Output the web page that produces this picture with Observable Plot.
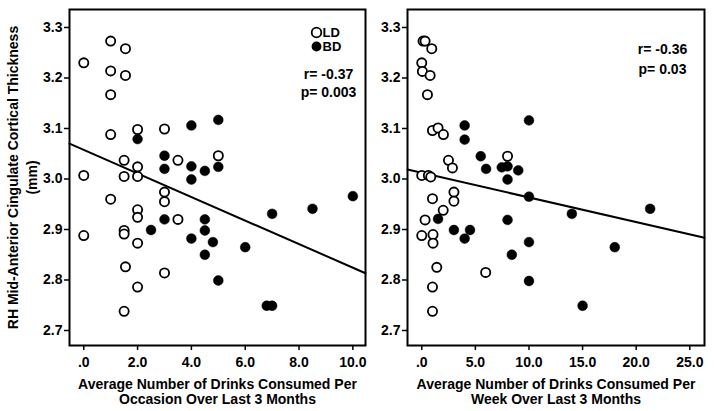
<!DOCTYPE html>
<html><head><meta charset="utf-8">
<script src="https://cdn.jsdelivr.net/npm/d3@7"></script>
<script src="https://cdn.jsdelivr.net/npm/@observablehq/plot@0.6"></script>
<style>
body{margin:0;background:#fff;}
#wrap{display:flex;width:714px;height:411px;overflow:hidden;}
#wrap svg{display:block;}
</style></head><body><div id="wrap"></div>
<script>
// ---------- data ----------
const yTicks = [2.7, 2.8, 2.9, 3.0, 3.1, 3.2, 3.3];
const yTickLabels = ["2.7", "2.8", "2.9", "3.0", "3.1", "3.2", "3.3"];
const yLabel = "RH Mid-Anterior Cingulate Cortical Thickness";
const yLabelUnit = "(mm)";

const leftXTicks = [0, 2, 4, 6, 8, 10];
const leftXTickLabels = [".0", "2.0", "4.0", "6.0", "8.0", "10.0"];
const leftXTitle = "Average Number of Drinks Consumed Per\nOccasion Over Last 3 Months";
const rightXTicks = [0, 5, 10, 15, 20, 25];
const rightXTickLabels = [".0", "5.0", "10.0", "15.0", "20.0", "25.0"];
const rightXTitle = "Average Number of Drinks Consumed Per\nWeek Over Last 3 Months";

const groups = ["LD", "BD"];

// Left panel: drinks per occasion
const leftLDx = [0, 1.0, 1.55, 1.0, 1.55, 1.0, 1.0, 2.0, 3.0, 1.5, 2.0, 3.5, 0, 1.5, 2.0, 5.0, 3.0, 1.0, 3.0, 2.0, 2.0, 3.5, 0, 1.5, 1.5, 2.0, 1.55, 3.0, 2.0, 1.5];
const leftLDy = [3.230, 3.273, 3.258, 3.214, 3.205, 3.167, 3.088, 3.098, 3.099, 3.037, 3.024, 3.037, 3.007, 3.005, 3.005, 3.046, 2.974, 2.960, 2.955, 2.939, 2.924, 2.920, 2.888, 2.898, 2.891, 2.873, 2.826, 2.814, 2.786, 2.738];
const leftBDx = [2.0, 4.0, 5.0, 3.0, 3.0, 4.0, 4.5, 5.0, 4.0, 10.0, 7.0, 8.5, 3.0, 2.5, 4.5, 4.5, 4.0, 4.8, 4.5, 6.0, 5.0, 6.8, 7.0];
const leftBDy = [3.079, 3.106, 3.117, 3.046, 3.020, 3.025, 3.016, 3.024, 2.999, 2.966, 2.931, 2.941, 2.920, 2.899, 2.920, 2.898, 2.882, 2.875, 2.850, 2.865, 2.799, 2.749, 2.749];
const leftFit = {intercept: 3.0576, slope: -0.02332};
const leftStats = "r= -0.37\np= 0.003";

// Right panel: drinks per week
const rightLDx = [0.12, 0.31, 0.93, 0, 0.06, 0.78, 0.53, 1.0, 1.52, 2.02, 2.49, 2.86, 8.0, 0, 0.62, 0.84, 3.0, 1.0, 3.0, 2.0, 0.31, 0, 1.05, 1.05, 1.4, 5.96, 1.0, 1.0];
const rightLDy = [3.273, 3.273, 3.258, 3.230, 3.213, 3.205, 3.167, 3.096, 3.101, 3.088, 3.037, 3.022, 3.045, 3.007, 3.007, 3.004, 2.974, 2.961, 2.956, 2.938, 2.919, 2.888, 2.890, 2.873, 2.825, 2.815, 2.786, 2.738];
const rightBDx = [4.0, 4.0, 10.0, 5.5, 6.0, 7.46, 8.0, 9.0, 8.0, 10.0, 14.0, 21.3, 8.0, 1.52, 3.0, 4.5, 4.0, 10.0, 8.4, 18.0, 10.0, 15.0];
const rightBDy = [3.106, 3.078, 3.116, 3.045, 3.020, 3.023, 3.025, 3.017, 2.999, 2.965, 2.931, 2.941, 2.919, 2.921, 2.899, 2.899, 2.882, 2.875, 2.850, 2.865, 2.798, 2.749];
const rightFit = {intercept: 3.0123, slope: -0.004881};
const rightStats = "r= -0.36\np= 0.03";

// ---------- drawing ----------
const FONT = "'Liberation Sans', Arial, Helvetica, sans-serif";
const yDomain = [2.6703, 3.3356];
const pts = (xs, ys) => xs.map((x, i) => ({x, y: ys[i]}));

function panel(o) {
  const [x0, x1] = o.xDomain;
  const fitLine = [x0, x1].map(x => ({x, y: o.fit.intercept + o.fit.slope * x}));
  const marks = [
    Plot.axisY(yTicks, {tickSize: 5, tickPadding: 2, strokeWidth: 1.5,
      tickFormat: d => yTickLabels[yTicks.indexOf(d)], label: null,
      fontSize: 14, fontWeight: "bold", fontFamily: FONT}),
    Plot.axisX(o.xTicks, {tickSize: 5, tickPadding: 7, strokeWidth: 1.5,
      tickFormat: d => o.xTickLabels[o.xTicks.indexOf(d)], label: null,
      fontSize: 14, fontWeight: "bold", fontFamily: FONT}),
    Plot.text([o.xTitle], {frameAnchor: "bottom", dy: 33, lineAnchor: "top", lineHeight: 1.05,
      fontSize: 14, fontWeight: "bold", fontFamily: FONT, fill: "black"}),
    Plot.line(fitLine, {x: "x", y: "y", stroke: "black", strokeWidth: 2}),
    Plot.dot(pts(o.ldx, o.ldy), {x: "x", y: "y", r: 4.6, fill: "white", stroke: "black", strokeWidth: 1.8}),
    Plot.dot(pts(o.bdx, o.bdy), {x: "x", y: "y", r: 4.9, fill: "black", stroke: "black", strokeWidth: 0.5}),
    Plot.text([o.stats], {frameAnchor: "top-right", dx: o.statsDx, dy: o.statsDy, lineAnchor: "top",
      textAnchor: "middle", lineHeight: o.statsLH, fontSize: 14, fontWeight: "bold", fontFamily: FONT, fill: "black"}),
    Plot.frame({stroke: "black", strokeWidth: 2})
  ];
  if (o.yLabel) {
    marks.push(
      Plot.text([yLabel], {frameAnchor: "left", dx: -55.5, rotate: -90, textAnchor: "middle", lineAnchor: "middle",
        fontSize: 14, fontWeight: "bold", fontFamily: FONT, fill: "black"}),
      Plot.text([yLabelUnit], {frameAnchor: "left", dx: -37, rotate: -90, textAnchor: "middle", lineAnchor: "middle",
        fontSize: 14, fontWeight: "bold", fontFamily: FONT, fill: "black"})
    );
  }
  if (o.legend) {
    marks.push(
      Plot.dot([groups[0]], {frameAnchor: "top-right", dx: -49, dy: 23, r: 4.8, fill: "white", stroke: "black", strokeWidth: 1.8}),
      Plot.dot([groups[1]], {frameAnchor: "top-right", dx: -49, dy: 37, r: 4.9, fill: "black"}),
      Plot.text([groups[0]], {frameAnchor: "top-right", dx: -43, dy: 23.5, textAnchor: "start", lineAnchor: "middle",
        fontSize: 13, fontWeight: "bold", fontFamily: FONT, fill: "black"}),
      Plot.text([groups[1]], {frameAnchor: "top-right", dx: -43, dy: 37.5, textAnchor: "start", lineAnchor: "middle",
        fontSize: 13, fontWeight: "bold", fontFamily: FONT, fill: "black"})
    );
  }
  return Plot.plot({
    width: o.width, height: 411,
    marginLeft: o.marginLeft, marginRight: o.marginRight, marginTop: 9, marginBottom: 66,
    x: {domain: o.xDomain},
    y: {domain: yDomain},
    style: {fontFamily: FONT, fontWeight: "bold", fontSize: "14px", color: "black", background: "white", overflow: "visible"},
    marks
  });
}

const wrap = document.getElementById("wrap");
wrap.append(panel({
  width: 372, marginLeft: 69, marginRight: 7, xDomain: [-0.53, 10.47],
  xTicks: leftXTicks, xTickLabels: leftXTickLabels, xTitle: leftXTitle,
  ldx: leftLDx, ldy: leftLDy, bdx: leftBDx, bdy: leftBDy, fit: leftFit,
  stats: leftStats, statsDx: -37, statsDy: 56, statsLH: 1.31,
  yLabel: true, legend: true
}));
wrap.append(panel({
  width: 342, marginLeft: 35, marginRight: 10, xDomain: [-1.33, 26.37],
  xTicks: rightXTicks, xTickLabels: rightXTickLabels, xTitle: rightXTitle,
  ldx: rightLDx, ldy: rightLDy, bdx: rightBDx, bdy: rightBDy, fit: rightFit,
  stats: rightStats, statsDx: -42, statsDy: 31, statsLH: 1.38,
  yLabel: false, legend: false
}));
</script></body></html>
